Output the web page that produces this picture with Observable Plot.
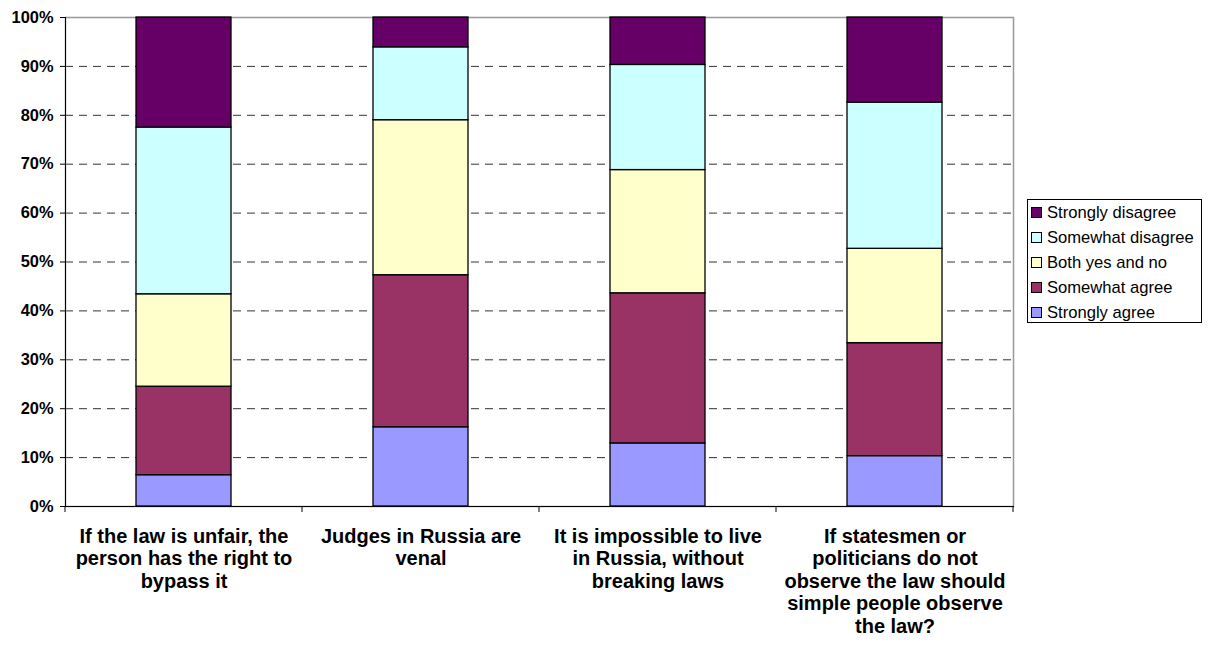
<!DOCTYPE html>
<html>
<head>
<meta charset="utf-8">
<script src="https://cdn.jsdelivr.net/npm/d3@7"></script>
<script src="https://cdn.jsdelivr.net/npm/@observablehq/plot@0.6"></script>
<style>
  html, body { margin: 0; padding: 0; background: #fff; }
  #wrap { position: relative; width: 1208px; height: 651px; font-family: "Liberation Sans", Arial, sans-serif; }
  #legend { position: absolute; left: 1027px; top: 199px; width: 175px; height: 124px; border: 1px solid #000; background: #fff; box-sizing: border-box; padding-top: 0px; }
  .row { height: 25px; display: flex; align-items: center; font-size: 16.6px; color: #000; white-space: nowrap; }
  .sw { width: 9px; height: 9px; border: 1px solid #000; margin-left: 3px; margin-right: 5px; flex: none; }
</style>
</head>
<body>
<div id="wrap"></div>
<script>
const categories = [
  "If the law is unfair, the person has the right to bypass it",
  "Judges in Russia are venal",
  "It is impossible to live in Russia, without breaking laws",
  "If statesmen or politicians do not observe the law should simple people observe the law?"
];
const categoryLabels = [
  "If the law is unfair, the\nperson has the right to\nbypass it",
  "Judges in Russia are\nvenal",
  "It is impossible to live\nin Russia, without\nbreaking laws",
  "If statesmen or\npoliticians do not\nobserve the law should\nsimple people observe\nthe law?"
];
const series = ["Strongly agree", "Somewhat agree", "Both yes and no", "Somewhat disagree", "Strongly disagree"];
const colors = ["#9999FF", "#993366", "#FFFFCC", "#CCFFFF", "#660066"];
const stronglyAgree    = [6.4, 16.2, 12.9, 10.3];
const somewhatAgree    = [18.1, 31.1, 30.7, 23.1];
const bothYesAndNo     = [18.9, 31.7, 25.2, 19.3];
const somewhatDisagree = [34.1, 14.9, 21.5, 29.9];
const stronglyDisagree = [22.5, 6.1, 9.7, 17.4];
const yTicks = [0, 10, 20, 30, 40, 50, 60, 70, 80, 90, 100];

const seriesValues = [stronglyAgree, somewhatAgree, bothYesAndNo, somewhatDisagree, stronglyDisagree];
const data = [];
series.forEach((s, si) => {
  categories.forEach((c, ci) => data.push({category: c, series: s, value: seriesValues[si][ci]}));
});

const font = "'Liberation Sans', Arial, sans-serif";

const chart = Plot.plot({
  width: 1208,
  height: 651,
  marginLeft: 65,
  marginTop: 17,
  marginBottom: 145,
  marginRight: 195,
  style: {fontFamily: font, background: "#fff", color: "#000", overflow: "visible"},
  x: {type: "band", domain: categories, paddingInner: 0.6, paddingOuter: 0.3, label: null},
  y: {domain: [0, 100], label: null},
  color: {domain: series, range: colors},
  marks: [
    Plot.gridY(yTicks.filter(t => t > 0 && t < 100), {stroke: "#333", strokeOpacity: 1, strokeDasharray: "8,6", strokeWidth: 1}),
    Plot.frame({stroke: "#999", strokeWidth: 1.5}),
    Plot.barY(data, {x: "category", y: "value", fill: "series", order: series, stroke: "#000", strokeWidth: 1.3}),
    Plot.frame({anchor: "left", stroke: "#000", strokeWidth: 1}),
    Plot.frame({anchor: "bottom", stroke: "#000", strokeWidth: 1}),
    Plot.axisY(yTicks, {tickSize: 5, tickPadding: 7, tickFormat: d => d + "%", fontSize: 16.4, fontWeight: "bold", stroke: "#000", fill: "#000"}),
    Plot.axisX({tickSize: 0, tickPadding: 20, tickFormat: d => categoryLabels[categories.indexOf(d)], fontSize: 20, fontWeight: "bold", lineHeight: 1.13, fill: "#000"})
  ]
});

document.getElementById("wrap").appendChild(chart);

// category boundary ticks (between bands), from the x scale
const xs = chart.scale("x");
const half = xs.step / 2;
const edges = categories.map(c => xs.apply(c) + xs.bandwidth / 2 - half);
edges.push(xs.apply(categories[categories.length - 1]) + xs.bandwidth / 2 + half);
const ys = chart.scale("y");
const y0 = ys.apply(0);
d3.select(chart).append("g")
  .selectAll("line").data(edges).join("line")
  .attr("x1", d => d).attr("x2", d => d)
  .attr("y1", y0).attr("y2", y0 + 6)
  .attr("stroke", "#000").attr("stroke-width", 1);

// legend
const legend = document.createElement("div");
legend.id = "legend";
series.slice().reverse().forEach(s => {
  const row = document.createElement("div");
  row.className = "row";
  const sw = document.createElement("span");
  sw.className = "sw";
  sw.style.background = colors[series.indexOf(s)];
  const t = document.createElement("span");
  t.textContent = s;
  row.appendChild(sw); row.appendChild(t);
  legend.appendChild(row);
});
document.getElementById("wrap").appendChild(legend);
</script>
</body>
</html>
